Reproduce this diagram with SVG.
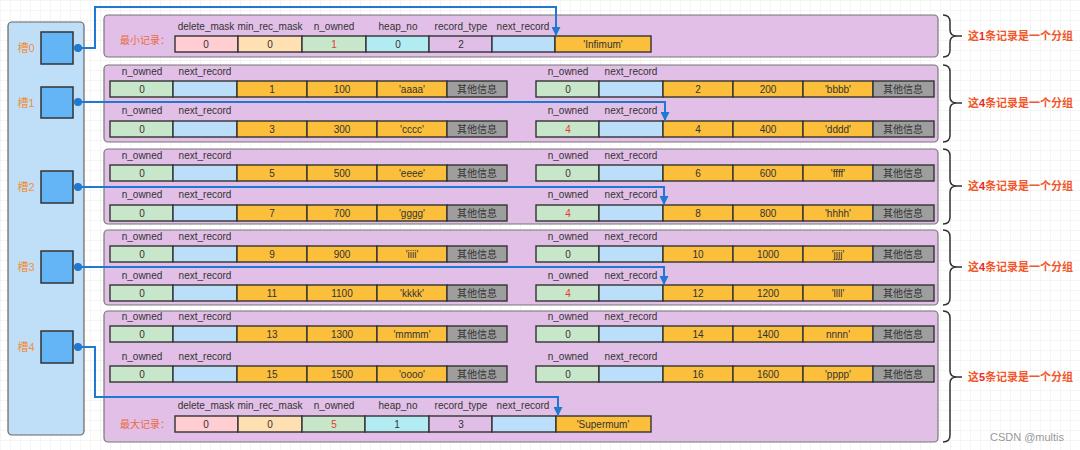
<svg xmlns="http://www.w3.org/2000/svg" width="1080" height="450" viewBox="0 0 1080 450">
<defs>
<pattern id="grid" width="10" height="10" patternUnits="userSpaceOnUse">
<path d="M10 0 H0 V10" fill="none" stroke="#ececec" stroke-width="1"/>
</pattern>
<marker id="arr" viewBox="0 0 10 10" refX="10" refY="5" markerWidth="9" markerHeight="9" markerUnits="userSpaceOnUse" orient="auto">
<path d="M0 0 L10 5 L0 10 Z" fill="#1f78d1"/>
</marker>
<style>
text{font-family:"Liberation Sans","Noto Sans CJK SC",sans-serif;font-size:10px;fill:#333;text-anchor:middle;dominant-baseline:central}
.grp{fill:#e1bfe6;stroke:#777;stroke-width:1.2}
.c{stroke:#333;stroke-width:1.4}
.no{fill:#c8e6c9}.nr{fill:#bbdefb}.v{fill:#fbbf3c}.o{fill:#9e9e9e}
.dm{fill:#ffcdd2}.mr{fill:#ffe0b2}.hn{fill:#b2ebf2}.rt{fill:#e1bee7}
.red{fill:#e53935}
.slotlbl{fill:#f0903a;font-size:11px}
.title{fill:#ec6a3c;font-size:10px;text-anchor:start}
.gl{fill:#f2572b;font-size:11px;font-weight:600;text-anchor:start}
.gl tspan.d{fill:#e8262a}
.conn{fill:none;stroke:#1f78d1;stroke-width:2}
.brace{fill:none;stroke:#333;stroke-width:1.5}
.sq{fill:#64b5f6;stroke:#333;stroke-width:1.5}
</style>
</defs>
<rect width="1080" height="450" fill="#ffffff"/>
<rect width="1080" height="450" fill="url(#grid)"/>

<g id="slots">
<rect x="8" y="22" width="76" height="413" rx="4" fill="#bfdff8" stroke="#666" stroke-width="1.2"/>
<g id="slot0"><text class="slotlbl" x="26" y="48">槽0</text><rect class="sq" x="41" y="32" width="32" height="32"/></g>
<g id="slot1"><text class="slotlbl" x="26" y="103">槽1</text><rect class="sq" x="41" y="87" width="32" height="31"/></g>
<g id="slot2"><text class="slotlbl" x="26" y="187">槽2</text><rect class="sq" x="41" y="171" width="32" height="32"/></g>
<g id="slot3"><text class="slotlbl" x="26" y="267">槽3</text><rect class="sq" x="41" y="251" width="32" height="32"/></g>
<g id="slot4"><text class="slotlbl" x="26" y="347">槽4</text><rect class="sq" x="41" y="331" width="32" height="32"/></g>
</g>

<g id="group1">
<rect class="grp" x="104" y="15" width="834" height="42" rx="4"/>
<text class="title" x="120" y="40">最小记录：</text>
<text x="206" y="26">delete_mask</text><text x="270" y="26">min_rec_mask</text><text x="334" y="26">n_owned</text>
<text x="398" y="26">heap_no</text><text x="461" y="26">record_type</text><text x="523" y="26">next_record</text>
<rect class="c dm" x="175" y="36" width="63" height="16"/><rect class="c mr" x="238" y="36" width="64" height="16"/>
<rect class="c no" x="302" y="36" width="64" height="16"/><rect class="c hn" x="366" y="36" width="63" height="16"/>
<rect class="c rt" x="429" y="36" width="63" height="16"/><rect class="c nr" x="492" y="36" width="63" height="16"/>
<rect class="c v" x="555" y="36" width="96" height="16"/>
<text x="206" y="44">0</text><text x="270" y="44">0</text><text class="red" x="334" y="44">1</text>
<text x="398" y="44">0</text><text x="461" y="44">2</text><text x="603" y="44">'Infimum'</text>
</g>

<g id="group2">
<rect class="grp" x="104" y="65" width="834" height="77" rx="4"/>
<g transform="translate(0,65)">
<text x="142" y="6">n_owned</text><text x="205" y="6">next_record</text><text x="568" y="6">n_owned</text><text x="631" y="6">next_record</text>
<text x="142" y="45">n_owned</text><text x="205" y="45">next_record</text><text x="568" y="45">n_owned</text><text x="631" y="45">next_record</text>
<g transform="translate(0,16)">
<rect class="c no" x="110" width="63" height="16"/><rect class="c nr" x="173" width="64" height="16"/><rect class="c v" x="237" width="70" height="16"/><rect class="c v" x="307" width="70" height="16"/><rect class="c v" x="377" width="70" height="16"/><rect class="c o" x="447" width="60" height="16"/>
<rect class="c no" x="536" width="63" height="16"/><rect class="c nr" x="599" width="64" height="16"/><rect class="c v" x="663" width="70" height="16"/><rect class="c v" x="733" width="70" height="16"/><rect class="c v" x="803" width="70" height="16"/><rect class="c o" x="873" width="61" height="16"/>
<text x="142" y="8">0</text><text x="272" y="8">1</text><text x="342" y="8">100</text><text x="412" y="8">'aaaa'</text><text x="477" y="8">其他信息</text>
<text x="568" y="8">0</text><text x="698" y="8">2</text><text x="768" y="8">200</text><text x="838" y="8">'bbbb'</text><text x="903" y="8">其他信息</text>
</g>
<g transform="translate(0,56)">
<rect class="c no" x="110" width="63" height="16"/><rect class="c nr" x="173" width="64" height="16"/><rect class="c v" x="237" width="70" height="16"/><rect class="c v" x="307" width="70" height="16"/><rect class="c v" x="377" width="70" height="16"/><rect class="c o" x="447" width="60" height="16"/>
<rect class="c no" x="536" width="63" height="16"/><rect class="c nr" x="599" width="64" height="16"/><rect class="c v" x="663" width="70" height="16"/><rect class="c v" x="733" width="70" height="16"/><rect class="c v" x="803" width="70" height="16"/><rect class="c o" x="873" width="61" height="16"/>
<text x="142" y="8">0</text><text x="272" y="8">3</text><text x="342" y="8">300</text><text x="412" y="8">'cccc'</text><text x="477" y="8">其他信息</text>
<text class="red" x="568" y="8">4</text><text x="698" y="8">4</text><text x="768" y="8">400</text><text x="838" y="8">'dddd'</text><text x="903" y="8">其他信息</text>
</g>
</g>
</g>

<g id="group3">
<rect class="grp" x="104" y="149" width="834" height="75" rx="4"/>
<g transform="translate(0,149)">
<text x="142" y="6">n_owned</text><text x="205" y="6">next_record</text><text x="568" y="6">n_owned</text><text x="631" y="6">next_record</text>
<text x="142" y="45">n_owned</text><text x="205" y="45">next_record</text><text x="568" y="45">n_owned</text><text x="631" y="45">next_record</text>
<g transform="translate(0,16)">
<rect class="c no" x="110" width="63" height="16"/><rect class="c nr" x="173" width="64" height="16"/><rect class="c v" x="237" width="70" height="16"/><rect class="c v" x="307" width="70" height="16"/><rect class="c v" x="377" width="70" height="16"/><rect class="c o" x="447" width="60" height="16"/>
<rect class="c no" x="536" width="63" height="16"/><rect class="c nr" x="599" width="64" height="16"/><rect class="c v" x="663" width="70" height="16"/><rect class="c v" x="733" width="70" height="16"/><rect class="c v" x="803" width="70" height="16"/><rect class="c o" x="873" width="61" height="16"/>
<text x="142" y="8">0</text><text x="272" y="8">5</text><text x="342" y="8">500</text><text x="412" y="8">'eeee'</text><text x="477" y="8">其他信息</text>
<text x="568" y="8">0</text><text x="698" y="8">6</text><text x="768" y="8">600</text><text x="838" y="8">'ffff'</text><text x="903" y="8">其他信息</text>
</g>
<g transform="translate(0,56)">
<rect class="c no" x="110" width="63" height="16"/><rect class="c nr" x="173" width="64" height="16"/><rect class="c v" x="237" width="70" height="16"/><rect class="c v" x="307" width="70" height="16"/><rect class="c v" x="377" width="70" height="16"/><rect class="c o" x="447" width="60" height="16"/>
<rect class="c no" x="536" width="63" height="16"/><rect class="c nr" x="599" width="64" height="16"/><rect class="c v" x="663" width="70" height="16"/><rect class="c v" x="733" width="70" height="16"/><rect class="c v" x="803" width="70" height="16"/><rect class="c o" x="873" width="61" height="16"/>
<text x="142" y="8">0</text><text x="272" y="8">7</text><text x="342" y="8">700</text><text x="412" y="8">'gggg'</text><text x="477" y="8">其他信息</text>
<text class="red" x="568" y="8">4</text><text x="698" y="8">8</text><text x="768" y="8">800</text><text x="838" y="8">'hhhh'</text><text x="903" y="8">其他信息</text>
</g>
</g>
</g>

<g id="group4">
<rect class="grp" x="104" y="230" width="834" height="75" rx="4"/>
<g transform="translate(0,230)">
<text x="142" y="6">n_owned</text><text x="205" y="6">next_record</text><text x="568" y="6">n_owned</text><text x="631" y="6">next_record</text>
<text x="142" y="45">n_owned</text><text x="205" y="45">next_record</text><text x="568" y="45">n_owned</text><text x="631" y="45">next_record</text>
<g transform="translate(0,16)">
<rect class="c no" x="110" width="63" height="16"/><rect class="c nr" x="173" width="64" height="16"/><rect class="c v" x="237" width="70" height="16"/><rect class="c v" x="307" width="70" height="16"/><rect class="c v" x="377" width="70" height="16"/><rect class="c o" x="447" width="60" height="16"/>
<rect class="c no" x="536" width="63" height="16"/><rect class="c nr" x="599" width="64" height="16"/><rect class="c v" x="663" width="70" height="16"/><rect class="c v" x="733" width="70" height="16"/><rect class="c v" x="803" width="70" height="16"/><rect class="c o" x="873" width="61" height="16"/>
<text x="142" y="8">0</text><text x="272" y="8">9</text><text x="342" y="8">900</text><text x="412" y="8">'iiii'</text><text x="477" y="8">其他信息</text>
<text x="568" y="8">0</text><text x="698" y="8">10</text><text x="768" y="8">1000</text><text x="838" y="8">'jjjj'</text><text x="903" y="8">其他信息</text>
</g>
<g transform="translate(0,55)">
<rect class="c no" x="110" width="63" height="16"/><rect class="c nr" x="173" width="64" height="16"/><rect class="c v" x="237" width="70" height="16"/><rect class="c v" x="307" width="70" height="16"/><rect class="c v" x="377" width="70" height="16"/><rect class="c o" x="447" width="60" height="16"/>
<rect class="c no" x="536" width="63" height="16"/><rect class="c nr" x="599" width="64" height="16"/><rect class="c v" x="663" width="70" height="16"/><rect class="c v" x="733" width="70" height="16"/><rect class="c v" x="803" width="70" height="16"/><rect class="c o" x="873" width="61" height="16"/>
<text x="142" y="8">0</text><text x="272" y="8">11</text><text x="342" y="8">1100</text><text x="412" y="8">'kkkk'</text><text x="477" y="8">其他信息</text>
<text class="red" x="568" y="8">4</text><text x="698" y="8">12</text><text x="768" y="8">1200</text><text x="838" y="8">'llll'</text><text x="903" y="8">其他信息</text>
</g>
</g>
</g>

<g id="group5">
<rect class="grp" x="104" y="311" width="834" height="131" rx="4"/>
<g transform="translate(0,310)">
<text x="142" y="6">n_owned</text><text x="205" y="6">next_record</text><text x="568" y="6">n_owned</text><text x="631" y="6">next_record</text>
<text x="142" y="46">n_owned</text><text x="205" y="46">next_record</text><text x="568" y="46">n_owned</text><text x="631" y="46">next_record</text>
<g transform="translate(0,16)">
<rect class="c no" x="110" width="63" height="16"/><rect class="c nr" x="173" width="64" height="16"/><rect class="c v" x="237" width="70" height="16"/><rect class="c v" x="307" width="70" height="16"/><rect class="c v" x="377" width="70" height="16"/><rect class="c o" x="447" width="60" height="16"/>
<rect class="c no" x="536" width="63" height="16"/><rect class="c nr" x="599" width="64" height="16"/><rect class="c v" x="663" width="70" height="16"/><rect class="c v" x="733" width="70" height="16"/><rect class="c v" x="803" width="70" height="16"/><rect class="c o" x="873" width="61" height="16"/>
<text x="142" y="8">0</text><text x="272" y="8">13</text><text x="342" y="8">1300</text><text x="412" y="8">'mmmm'</text><text x="477" y="8">其他信息</text>
<text x="568" y="8">0</text><text x="698" y="8">14</text><text x="768" y="8">1400</text><text x="838" y="8">nnnn'</text><text x="903" y="8">其他信息</text>
</g>
<g transform="translate(0,56)">
<rect class="c no" x="110" width="63" height="16"/><rect class="c nr" x="173" width="64" height="16"/><rect class="c v" x="237" width="70" height="16"/><rect class="c v" x="307" width="70" height="16"/><rect class="c v" x="377" width="70" height="16"/><rect class="c o" x="447" width="60" height="16"/>
<rect class="c no" x="536" width="63" height="16"/><rect class="c nr" x="599" width="64" height="16"/><rect class="c v" x="663" width="70" height="16"/><rect class="c v" x="733" width="70" height="16"/><rect class="c v" x="803" width="70" height="16"/><rect class="c o" x="873" width="61" height="16"/>
<text x="142" y="8">0</text><text x="272" y="8">15</text><text x="342" y="8">1500</text><text x="412" y="8">'oooo'</text><text x="477" y="8">其他信息</text>
<text x="568" y="8" fill="#111">0</text><text x="698" y="8">16</text><text x="768" y="8">1600</text><text x="838" y="8">'pppp'</text><text x="903" y="8">其他信息</text>
</g>
</g>
<text class="title" x="120" y="424">最大记录：</text>
<text x="206" y="405">delete_mask</text><text x="270" y="405">min_rec_mask</text><text x="334" y="405">n_owned</text>
<text x="398" y="405">heap_no</text><text x="461" y="405">record_type</text><text x="523" y="405">next_record</text>
<rect class="c dm" x="175" y="416" width="63" height="16"/><rect class="c mr" x="238" y="416" width="64" height="16"/>
<rect class="c no" x="302" y="416" width="63" height="16"/><rect class="c hn" x="365" y="416" width="64" height="16"/>
<rect class="c rt" x="429" y="416" width="63" height="16"/><rect class="c nr" x="492" y="416" width="64" height="16"/>
<rect class="c v" x="556" y="416" width="95" height="16"/>
<text x="206" y="424">0</text><text x="270" y="424">0</text><text class="red" x="334" y="424">5</text>
<text x="397" y="424">1</text><text x="461" y="424">3</text><text x="603" y="424">'Supermum'</text>
</g>

<g id="braces">
<path class="brace" d="M943 15 Q950 15 950 22 V30 Q950 36 957 36 H962 M957 36 Q950 36 950 42 V50 Q950 57 943 57"/>
<path class="brace" d="M943 65 Q950 65 950 72 V97 Q950 103 957 103 H962 M957 103 Q950 103 950 109 V135 Q950 142 943 142"/>
<path class="brace" d="M943 149 Q950 149 950 156 V180 Q950 186 957 186 H962 M957 186 Q950 186 950 192 V217 Q950 224 943 224"/>
<path class="brace" d="M943 230 Q950 230 950 237 V261 Q950 267 957 267 H962 M957 267 Q950 267 950 273 V298 Q950 305 943 305"/>
<path class="brace" d="M943 311 Q950 311 950 318 V371 Q950 377 957 377 H962 M957 377 Q950 377 950 383 V435 Q950 442 943 442"/>
<text class="gl" x="968" y="36">这<tspan class="d">1</tspan>条记录是一个分组</text>
<text class="gl" x="968" y="103">这<tspan class="d">4</tspan>条记录是一个分组</text>
<text class="gl" x="968" y="186">这<tspan class="d">4</tspan>条记录是一个分组</text>
<text class="gl" x="968" y="267">这<tspan class="d">4</tspan>条记录是一个分组</text>
<text class="gl" x="968" y="377">这<tspan class="d">5</tspan>条记录是一个分组</text>
</g>

<g id="connectors">
<path class="conn" d="M78 48 H95 V7 H556 V36" marker-end="url(#arr)"/>
<path class="conn" d="M78 102 H665 V121" marker-end="url(#arr)"/>
<path class="conn" d="M78 187 H664 V205" marker-end="url(#arr)"/>
<path class="conn" d="M78 267 H664 V285" marker-end="url(#arr)"/>
<path class="conn" d="M78 347 H95 V397 H558 V416" marker-end="url(#arr)"/>
<circle cx="78" cy="48" r="4" fill="#1f78d1"/>
<circle cx="78" cy="102" r="4" fill="#1f78d1"/>
<circle cx="78" cy="187" r="4" fill="#1f78d1"/>
<circle cx="78" cy="267" r="4" fill="#1f78d1"/>
<circle cx="78" cy="347" r="4" fill="#1f78d1"/>
</g>

<text x="1027" y="437" style="fill:#999;font-size:11px">CSDN @multis</text>
</svg>
